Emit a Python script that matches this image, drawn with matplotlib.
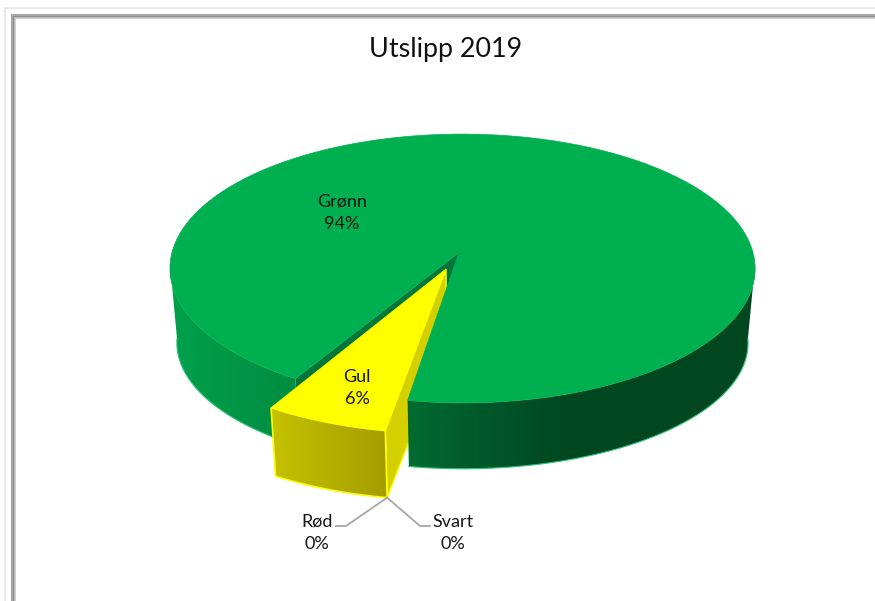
import numpy as np
import matplotlib
matplotlib.use('Agg')
import matplotlib.pyplot as plt
from matplotlib.colors import LinearSegmentedColormap
from matplotlib.patches import Polygon

plt.rcParams['font.family'] = ['Lato', 'DejaVu Sans']

# slice order runs clockwise from the first slice angle
categories = ['Grønn', 'Rød', 'Svart', 'Gul']
shares = [94, 0, 0, 6]
title = 'Utslipp 2019'

FIRST_ANGLE = 239.4
K = 0.119      # perspective towards the back of the disc
M = 0.012
EXPLODE_APEX = 0.13
EXPLODE_RIM = 0.185
YELLOW_DROP = 3

fig = plt.figure(figsize=(8.75, 6.01), dpi=100)
ax = fig.add_axes([0, 0, 1, 1])
ax.set_xlim(0, 875)
ax.set_ylim(601, 0)
ax.axis('off')


def project(theta_deg, r=1.0, offset=0.0, bottom=False, mid=0.0, drop=0.0):
    # disc plane -> pixel position, top face or bottom face of the cylinder
    t = np.radians(theta_deg)
    p = r * np.cos(t) + offset * np.cos(np.radians(mid))
    q = r * np.sin(t) + offset * np.sin(np.radians(mid))
    w = 1 + K * q - M * p
    if bottom:
        return 459 + 283.5 * p / w, 328 - 124 * q / w + drop
    return 459 + 290.5 * p / w, 252.5 - 132.5 * q / w


def arc(a, b, **kw):
    th = np.linspace(a, b, 120)
    x, y = project(th, **kw)
    return np.column_stack([x, y])


def gradient_fill(pts, xs, colors, zorder):
    # horizontal shading clipped to the wall outline
    stops = (np.array(xs) - xs[0]) / (xs[-1] - xs[0])
    cmap = LinearSegmentedColormap.from_list('wall', list(zip(stops, colors)))
    poly = Polygon(pts, closed=True, fc='none', ec='none', zorder=zorder)
    ax.add_patch(poly)
    im = ax.imshow(np.linspace(0, 1, 400).reshape(1, -1), cmap=cmap, aspect='auto',
                   extent=(xs[0], xs[-1], 601, 0), zorder=zorder)
    im.set_clip_path(poly)


# cumulative slice angles, going clockwise
ends = FIRST_ANGLE - np.cumsum(np.array(shares) * 3.6)
starts = np.concatenate([[FIRST_ANGLE], ends[:-1]])
green_a, green_b = starts[0], ends[0]
yellow_a, yellow_b = starts[3] + 360, ends[3] + 360
yellow_mid = (yellow_a + yellow_b) / 2
y_rim = dict(offset=EXPLODE_RIM, mid=yellow_mid)
y_core = dict(r=0, offset=EXPLODE_APEX, mid=yellow_mid)

GREEN_TOP = '#00b050'
GREEN_EDGE = '#2cc47c'

# window frame
ax.add_patch(plt.Rectangle((0, 0), 875, 601, fc='#ffffff', ec='none', zorder=0))
for off, col, lw in [(6, '#e6e6e6', 1.2), (13, '#a8a8a8', 1.5), (14.5, '#8e8e8e', 1.5), (16, '#c8c8c8', 1.2)]:
    ax.plot([off - 1, off - 1, 875], [601, off + 2, off + 2], color=col, lw=lw, solid_joinstyle='miter', zorder=1)

# cut face of the green slice, seen through the gap
apex_t = project(0, r=0)
apex_b = project(0, r=0, bottom=True)
rim_t = project(green_a)
rim_b = project(green_a, bottom=True)
ax.add_patch(Polygon([apex_t, rim_t, rim_b, apex_b], fc='#00763a', ec='none', zorder=2))

# inner cut face of the yellow slice
y_apex_t = project(0, **y_core)
y_apex_b = project(0, bottom=True, drop=YELLOW_DROP, **y_core)
y_rim_t = project(yellow_a, **y_rim)
y_rim_b = project(yellow_a, bottom=True, drop=YELLOW_DROP, **y_rim)
ax.add_patch(Polygon([y_apex_t, y_rim_t, y_rim_b, y_apex_b], fc='#d4d000', ec='#ffff00', lw=1, zorder=3))

# outer wall of the green slice, left and right of the gap
wall_xs = [170, 300, 410, 480, 560, 760]
wall_cols = ['#00a04c', '#008c41', '#006b30', '#00592a', '#004821', '#00461f']
for a, b in [(green_a, 185), (-5, yellow_a - 360)]:
    pts = np.vstack([arc(a, b), arc(b, a, bottom=True)])
    gradient_fill(pts, wall_xs, wall_cols, 4)
    edge = arc(a, b, bottom=True)
    ax.plot(edge[:, 0], edge[:, 1], color=GREEN_EDGE, lw=0.8, zorder=4.5)

# green top face
top = np.vstack([arc(green_a, green_b), [apex_t]])
ax.add_patch(Polygon(top, fc=GREEN_TOP, ec=GREEN_TOP, lw=0.5, zorder=5))

# exploded yellow slice
y_wall = np.vstack([arc(yellow_a, yellow_b, **y_rim),
                    arc(yellow_b, yellow_a, bottom=True, drop=YELLOW_DROP, **y_rim)])
gradient_fill(y_wall, [270, 390], ['#c6c200', '#a49c00'], 6)
ax.add_patch(Polygon(y_wall, fc='none', ec='#ffff00', lw=1.2, zorder=6.5))
y_top = np.vstack([arc(yellow_a, yellow_b, **y_rim), [y_apex_t]])
ax.add_patch(Polygon(y_top, fc='#ffff00', ec='#ffff00', lw=0.5, zorder=7))

# leader lines for the empty slices
lead = y_rim_b
ax.plot([lead[0], 346, 336], [lead[1], 526, 526], color='#a6a6a6', lw=1.3, zorder=8)
ax.plot([lead[0], 420, 430], [lead[1], 526, 526], color='#a6a6a6', lw=1.3, zorder=8)

label_pos = {'Grønn': (342, 213), 'Rød': (317, 533), 'Svart': (453, 533), 'Gul': (357, 388)}
for name, share in zip(categories, shares):
    x, y = label_pos[name]
    ax.text(x, y, f'{name}\n{share}%', ha='center', va='center', fontsize=13,
            color='#151515', linespacing=1.5, zorder=9)

ax.text(446, 49, title, ha='center', va='center', fontsize=19.4, color='#111111', zorder=9)

fig.savefig('out.png', dpi=100)
